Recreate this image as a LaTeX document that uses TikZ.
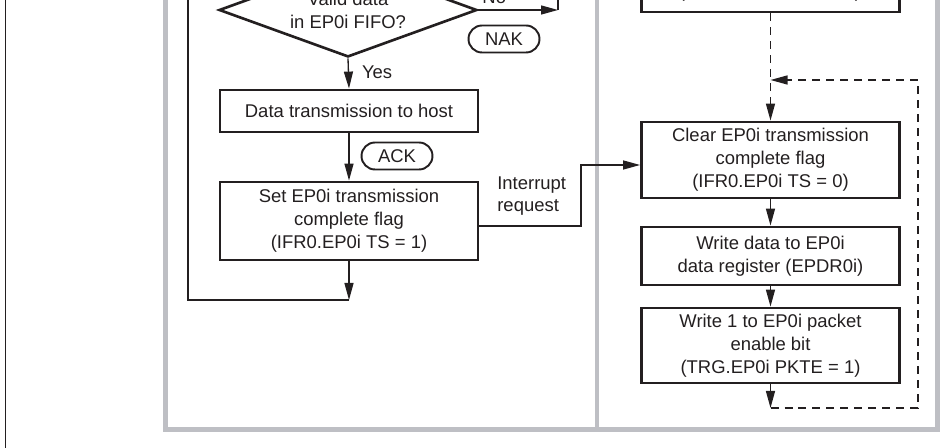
\documentclass[tikz,border=0pt]{standalone}
\usepackage{fontspec}
\setmainfont{Liberation Sans}
\usetikzlibrary{shapes.geometric,shapes.misc,arrows.meta,positioning,calc}
\definecolor{framegray}{RGB}{190,191,196}
\definecolor{inkblack}{RGB}{35,31,32}

\begin{document}
\begin{tikzpicture}[x=0.02cm,y=-0.02cm,
  font=\fontsize{10.5}{13}\selectfont,
  proc/.style={rectangle,draw=inkblack,line width=1.6pt,align=center,text=inkblack,
               minimum width=5.16cm,inner sep=0pt},
  dec/.style={diamond,aspect=2.7,draw=inkblack,line width=1.5pt,align=center,text=inkblack,
              minimum width=5.16cm,minimum height=1.88cm,inner sep=0pt},
  pill/.style={rounded rectangle,draw=inkblack,line width=1.1pt,text=inkblack,
               minimum width=1.42cm,minimum height=0.54cm,inner sep=0pt},
  arr/.style={-{Triangle[length=0.34cm,width=0.18cm]},line width=0.75pt,draw=inkblack},
  darr/.style={arr,dash pattern=on 0.16cm off 0.12cm},
  wire/.style={line width=0.75pt,draw=inkblack},
  lbl/.style={text=inkblack,inner sep=0pt}
]
\useasboundingbox (0,0) rectangle (941,448);
\clip (0,0) rectangle (941,448);

\draw[framegray,line width=0.1cm] (165.5,-10) |- (937.5,429.5) -- (937.5,-10);
\draw[framegray,line width=0.08cm] (597,-10) -- (597,427);
\draw[inkblack,line width=0.04cm] (5.5,-10) -- (5.5,460);

\node[dec] (valid) at (348,10) {Valid data\\in EP0i FIFO?};
\node[proc,minimum height=0.84cm] (xmit) at (349,111) {Data transmission to host};
\node[proc,minimum height=1.56cm] (setf) at (349,221) {Set EP0i transmission\\complete flag\\(IFR0.EP0i TS = 1)};
\node[pill] (nak) at (504,39) {NAK};
\node[pill] (ack) at (397,156) {ACK};

\node[proc,minimum height=1.48cm] (prev) at (770.5,-25) {};
\node[lbl,anchor=base] (prevtxt) at (770,-2) {(\hspace{3.4cm})};
\node[proc,minimum height=1.52cm] (clr) at (770.5,160) {Clear EP0i transmission\\complete flag\\(IFR0.EP0i TS = 0)};
\node[proc,minimum height=1.16cm] (wrd) at (770.5,256) {Write data to EP0i\\data register (EPDR0i)};
\node[proc,minimum height=1.5cm] (pkte) at (770.5,345.5) {Write 1 to EP0i packet\\enable bit\\(TRG.EP0i PKTE = 1)};

\coordinate (nojoin) at (558,10);
\coordinate (notop) at (558,-40);
\coordinate (loopjoin) at (349,300);
\coordinate (looptop) at (188,-40);
\coordinate (irq) at (581,200);
\coordinate (djoin) at (770.5,80);
\coordinate (dbot) at (770.5,408);
\coordinate (dright) at (918,80);

\draw[arr] (valid.east) -- node[lbl,above=0.12cm,pos=0.2]{No} (nojoin);
\draw[wire] (nojoin) -- (notop);
\draw[arr] (valid.south) -- node[lbl,right=0.26cm,pos=0.45]{Yes} (xmit.north);
\draw[arr] (xmit) -- (setf);
\draw[arr] (setf.south) -- (loopjoin);
\draw[wire] (loopjoin) -| (looptop);
\draw[arr] ([yshift=-0.1cm]setf.east) -| (irq) |- ([yshift=-0.1cm]clr.west);
\node[lbl,align=left,anchor=west] (irqlbl) at (497,196) {Interrupt\\request};

\draw[darr] (prev.south) -- (clr.north);
\draw[arr] (clr) -- (wrd);
\draw[arr] (wrd) -- (pkte);
\draw[darr] (pkte.south) -- (dbot);
\draw[darr] (dbot) -| (dright) -- (djoin);
\end{tikzpicture}
\end{document}
